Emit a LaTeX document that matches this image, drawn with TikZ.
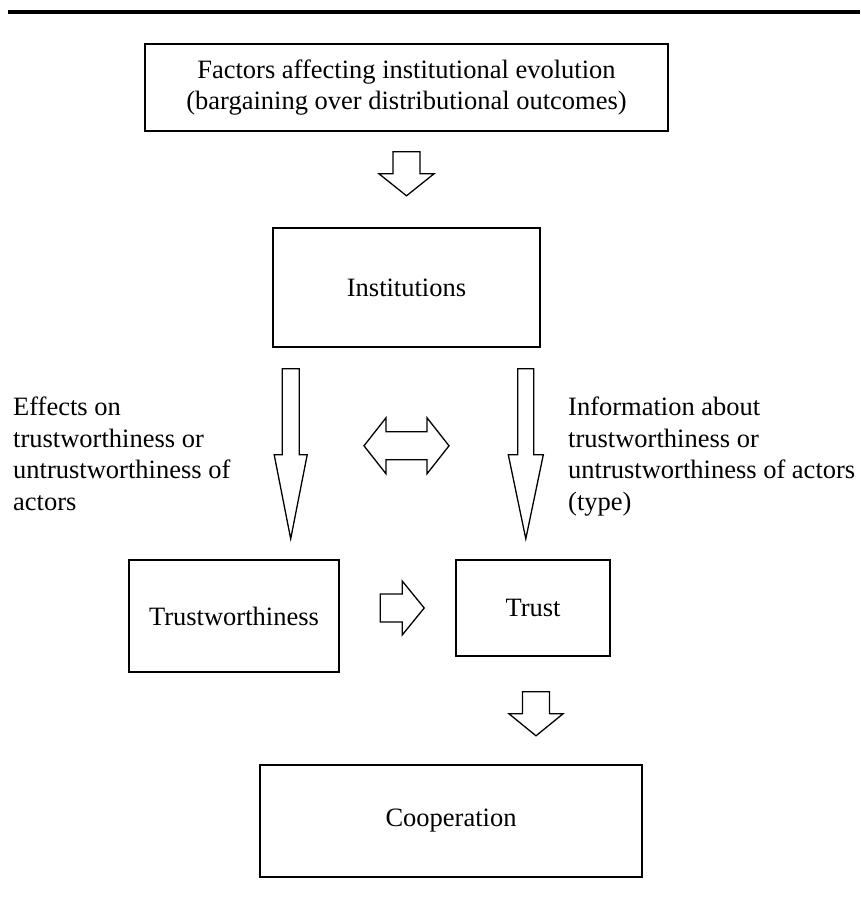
\documentclass[tikz,border=0pt]{standalone}
\usepackage{fontspec}
\setmainfont{Liberation Serif}
\usetikzlibrary{calc}

\tikzset{
	boxnode/.style={draw, line width=1.6pt, inner sep=0pt, align=center},
	blockarrow/.style={draw, line width=1.3pt, line join=miter, fill=white},
	sidetext/.style={anchor=north west, inner sep=0pt, align=left}
}
% start, angle, shaft length, shaft half width, head half width, head length
\newcommand{\fatarrow}[6]{%
	\draw[blockarrow, shift={(#1)}, rotate=#2] (0,-#4) -- (#3,-#4) -- (#3,-#5) -- ({#3+#6},0) -- (#3,#5) -- (#3,#4) -- (0,#4) -- cycle;}

\begin{document}
\begin{tikzpicture}[x=1pt, y=-1pt, font=\fontsize{26.5}{31.5}\selectfont]
	\useasboundingbox (0,0) rectangle (860,915);
	\draw[line width=3.5pt] (8,12) -- (860,12);

	\node[boxnode, minimum width=523, minimum height=87] (fac) at (406.5,87.5) {Factors affecting institutional evolution\\(bargaining over distributional outcomes)};
	\node[boxnode, minimum width=267, minimum height=119] (inst) at (406.5,287.5) {Institutions};
	\node[boxnode, minimum width=210, minimum height=112] (tw) at (234,616) {Trustworthiness};
	\node[boxnode, minimum width=154, minimum height=96] (trust) at (533,608) {Trust};
	\node[boxnode, minimum width=382, minimum height=112] (coop) at (451,821) {Cooperation};

	\node[sidetext] (effects) at (13,397) {Effects on\\trustworthiness or\\untrustworthiness of\\actors};
	\node[sidetext] (info) at (568,397) {Information about\\trustworthiness or\\untrustworthiness of actors\\(type)};

	\coordinate (a1) at ($(fac.south)+(0,20)$);
	\coordinate (a2) at ($(inst.south west)+(18.5,21)$);
	\coordinate (a3) at ($(inst.south east)+(-15,21)$);
	\coordinate (a4) at ($(trust.west)+(-75,0)$);
	\coordinate (a5) at ($(trust.south)+(3,35)$);
	\coordinate (mid) at ($(inst.south)+(0,98)$);

	\fatarrow{a1}{-90}{22}{13.5}{27.5}{22}
	\fatarrow{a2}{-90}{86}{8.5}{16.5}{84}
	\fatarrow{a3}{-90}{86}{8}{17.5}{84}
	\fatarrow{a4}{0}{22}{14}{27}{22}
	\fatarrow{a5}{-90}{22}{13.5}{27}{22}

	\draw[blockarrow, shift={(mid)}] (-42.5,0) -- (-20.5,-28) -- (-20.5,-14) -- (20.5,-14) -- (20.5,-28) -- (42.5,0) -- (20.5,28) -- (20.5,14) -- (-20.5,14) -- (-20.5,28) -- cycle;
\end{tikzpicture}
\end{document}
